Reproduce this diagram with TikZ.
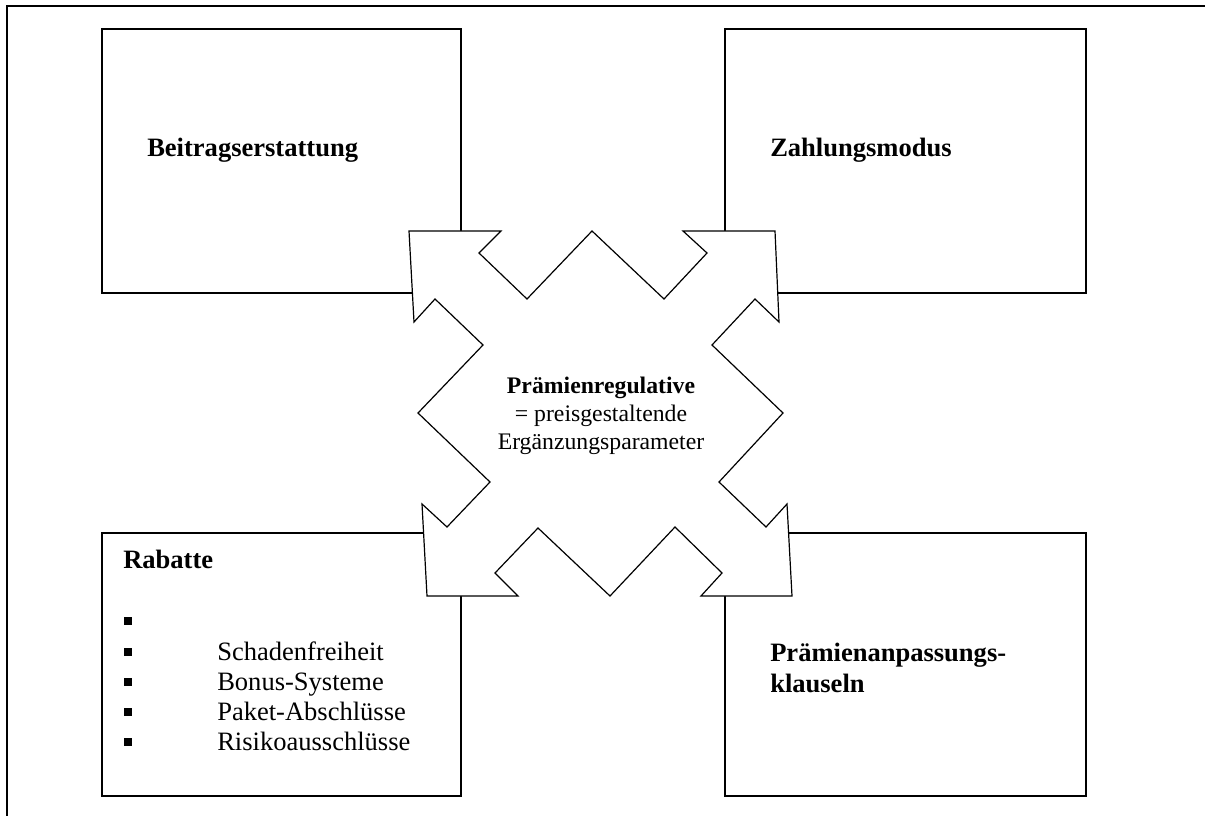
\documentclass[tikz,border=0pt]{standalone}
\usepackage{fontspec}
\setmainfont{Liberation Serif}
\usetikzlibrary{fit}
\tikzset{
  box/.style={draw, line width=1.2pt, inner sep=0pt},
  star/.style={draw, fill=white, line width=0.9pt, line join=miter},
  frame/.style={line width=1.6pt},
  lbl/.style={inner sep=0pt, font=\fontsize{19.9}{23}\selectfont},
  clbl/.style={inner sep=0pt, align=center, font=\fontsize{17.8}{21}\selectfont},
  bul/.style={fill=black, inner sep=0pt, minimum size=5.6pt},
}
\begin{document}
\begin{tikzpicture}[x=0.75pt,y=-0.75pt]
\useasboundingbox (0,0) rectangle (1205,816);
% outer frame (top and left visible)
\coordinate (fTL) at (7,6);
\coordinate (fTR) at (1205,6);
\coordinate (fBL) at (7,816);
\draw[frame] (fBL) -- (fTL) -- (fTR);
% boxes
\node[box, fit={(102,29) (461,293)}] (bt) {};
\node[box, fit={(725,29) (1086,293)}] (zm) {};
\node[box, fit={(102,533) (461,796)}] (rb) {};
\node[box, fit={(725,533) (1086,796)}] (pa) {};
% central star
\draw[star] (409,231) -- (501,231) -- (479,253) -- (527,299) -- (592,231) -- (664,299) -- (707,253) -- (683,231)
  -- (775,231) -- (779,322) -- (755,299) -- (712,345) -- (783,413) -- (719,482) -- (766,527) -- (787,504)
  -- (792,596) -- (701,596) -- (722,573) -- (675,527) -- (610,596) -- (538,528) -- (495,573) -- (518,596)
  -- (427,596) -- (422,504) -- (447,527) -- (490,482) -- (418,413) -- (483,345) -- (435,299) -- (414,322) -- cycle;
% texts
\node[lbl, anchor=base west] (tbt) at (147,157) {\bfseries Beitragserstattung};
\node[lbl, anchor=base west] (tzm) at (770,157) {\bfseries Zahlungsmodus};
\node[lbl, anchor=base west] (trb) at (123,568) {\bfseries Rabatte};
\node[lbl, anchor=base west, align=left] (tpa) at (770,692) {\bfseries Prämienanpassungs-\\\bfseries klauseln};
\node[clbl, anchor=base] (tc) at (601,449) {\bfseries Prämienregulative\\= preisgestaltende\\Ergänzungsparameter};
% list
\node[bul] (b1) at (128,621) {};
\node[bul] (b2) at (128,652) {};
\node[bul] (b3) at (128,682) {};
\node[bul] (b4) at (128,712) {};
\node[bul] (b5) at (128,742) {};
\node[lbl, anchor=base west] (l2) at (217,660) {Schadenfreiheit};
\node[lbl, anchor=base west] (l3) at (217,690) {Bonus-Systeme};
\node[lbl, anchor=base west] (l4) at (217,720) {Paket-Abschlüsse};
\node[lbl, anchor=base west] (l5) at (217,750) {Risikoausschlüsse};
\end{tikzpicture}
\end{document}
